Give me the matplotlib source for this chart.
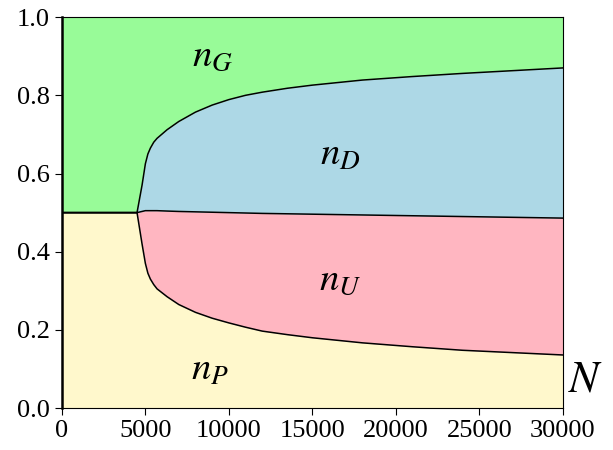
import matplotlib
matplotlib.use("Agg")
import matplotlib.pyplot as plt

# boundaries (cumulative fractions)
N = [0, 4500, 4800, 5000, 5150, 5300, 5500, 5700, 6300, 7000, 8000, 9000,
     10000, 11000, 12000, 13500, 15000, 18000, 21000, 24000, 27000, 30000]
n_P = [0.5, 0.5, 0.42, 0.37, 0.345, 0.33, 0.316, 0.305, 0.285, 0.265, 0.245,
       0.23, 0.218, 0.207, 0.197, 0.188, 0.18, 0.167, 0.157, 0.148, 0.142, 0.136]
n_PU = [0.5, 0.5, 0.503, 0.505, 0.505, 0.505, 0.505, 0.505, 0.504, 0.503, 0.502,
        0.501, 0.5, 0.499, 0.498, 0.497, 0.496, 0.494, 0.492, 0.49, 0.488, 0.486]
n_PUD = [0.5, 0.5, 0.57, 0.625, 0.65, 0.665, 0.68, 0.69, 0.712, 0.733, 0.757,
         0.775, 0.789, 0.8, 0.808, 0.818, 0.826, 0.839, 0.848, 0.856, 0.863, 0.87]

colors = ["#fff8cc", "#ffb6c1", "#add8e6", "#98fb98"]

plt.rcParams['font.family'] = ['Liberation Serif', 'DejaVu Serif']
plt.rcParams['mathtext.fontset'] = 'stix'

fig = plt.figure(figsize=(6.13, 4.5), dpi=100)
ax = fig.add_axes([0.101, 0.093, 0.817, 0.869])

zeros = [0] * len(N)
ones = [1] * len(N)
ax.fill_between(N, zeros, n_P, color=colors[0], lw=0)
ax.fill_between(N, n_P, n_PU, color=colors[1], lw=0)
ax.fill_between(N, n_PU, n_PUD, color=colors[2], lw=0)
ax.fill_between(N, n_PUD, ones, color=colors[3], lw=0)
for b in (n_P, n_PU, n_PUD):
    ax.plot(N, b, color="black", lw=1.1)

ax.set_xlim(0, 30000)
ax.set_ylim(0, 1)
ax.set_xticks(range(0, 30001, 5000))
ax.set_yticks([0, 0.2, 0.4, 0.6, 0.8, 1.0])
ax.tick_params(labelsize=19, length=5)
ax.spines['left'].set_linewidth(1.8)

ax.text(9000, 0.9, r"$n_G$", fontsize=28, ha="center", va="center")
ax.text(16650, 0.647, r"$n_D$", fontsize=28, ha="center", va="center")
ax.text(16650, 0.327, r"$n_U$", fontsize=28, ha="center", va="center")
ax.text(8860, 0.097, r"$n_P$", fontsize=28, ha="center", va="center")
ax.text(1.01, 0.02, r"$N$", fontsize=32, transform=ax.transAxes,
        ha="left", va="bottom")

fig.savefig("out.png", dpi=100)
